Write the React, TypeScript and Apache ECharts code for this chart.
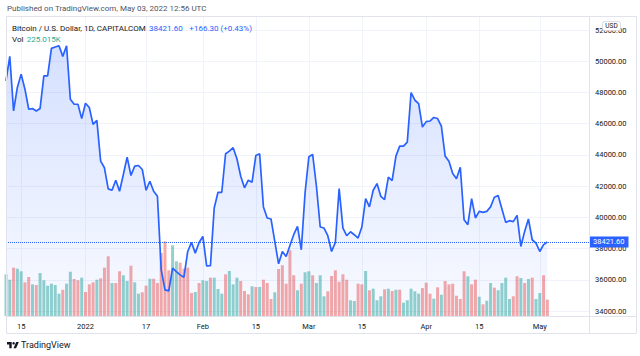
import React, { useEffect, useRef } from "react";
import * as echarts from "echarts";

// ---- data ----
const startDate = "2021-12-11";
const totalSlots = 155; // category slots on the time axis (data + empty right margin)

const prices: number[] = [
  48744, 50313, 46815, 48320, 49175, 48210, 46924, 46970, 46815, 46970,
  49065, 49065, 50827, 50911, 50995, 50313, 50995, 47567, 47246, 47246,
  46326, 47310, 47034, 45960, 46217, 43600, 43176, 41825, 41735, 42378,
  41671, 42745, 43857, 42681, 43279, 43324, 43067, 41735, 42314, 41671,
  41350, 36636, 35350, 35286, 36745, 36527, 36315, 36167, 37813, 38392,
  37710, 38392, 38778, 36894, 36900, 40603, 41606, 41606, 44076, 44245,
  44462, 43754, 42636, 41890, 42378, 42250, 43967, 44076, 40668, 39961,
  39896, 38456, 37022, 37813, 37491, 38200, 38887, 39420, 37922, 41568,
  43883, 44031, 41993, 39379, 39315, 38822, 37813, 38392, 41845, 39315,
  38822, 39080, 38887, 38672, 39379, 41202, 40668, 41735, 42166, 41350,
  41137, 42571, 42359, 43922, 44565, 44565, 44822, 47998, 47503, 47291,
  45786, 46133, 46172, 46400, 46330, 45850, 43922, 43600, 42809, 42468,
  43214, 39851, 39530, 41202, 39961, 40385, 40321, 40385, 40668, 41285,
  41395, 40539, 39678, 39787, 39723, 40128, 38136, 39100, 39896, 38565,
  38353, 37813, 38255.3, 38421.6,
];

// volume in thousands
const volumes: number[] = [
  575, 501, 667, 653, 617, 465, 538, 437, 428, 593,
  493, 418, 446, 428, 308, 363, 446, 611, 511, 493,
  529, 331, 437, 465, 501, 520, 667, 824, 455, 455,
  617, 562, 483, 694, 465, 308, 327, 418, 515, 515,
  455, 869, 1031, 631, 976, 755, 736, 653, 667, 317,
  331, 455, 493, 483, 529, 529, 373, 308, 575, 621,
  437, 529, 483, 345, 299, 410, 400, 400, 501, 455,
  235, 327, 649, 700, 446, 907, 562, 355, 446, 603,
  617, 562, 455, 562, 272, 341, 552, 631, 473, 575,
  501, 217, 207, 446, 437, 621, 355, 377, 217, 272,
  368, 377, 345, 363, 363, 184, 217, 377, 341, 308,
  386, 460, 308, 239, 396, 294, 483, 437, 446, 280,
  235, 617, 548, 437, 501, 266, 161, 211, 455, 391,
  355, 455, 529, 235, 272, 548, 524, 455, 511, 529,
  235, 317, 562, 225.015,
];

// u = up (green), d = down (red)
const volumeDir: string[] = (
  "uuduudduduuuuuuduuddudddudddudduuduudduddddduudddduduudu" +
  "uuduuudddududdduddddduduuduuudddddduudduduuudududuuuuudddudu" +
  "ddddddudduduuduuuuddududuuddddu"
).split("");

const tickDates: string[] = [
  "2021-12-15", "2022-01-01", "2022-01-17", "2022-02-01", "2022-02-15",
  "2022-03-01", "2022-03-15", "2022-04-01", "2022-04-15", "2022-05-01",
];
const tickLabels: string[] = ["15", "2022", "17", "Feb", "15", "Mar", "15", "Apr", "15", "May"];

const priceTicksMin = 33680;
const priceTicksMax = 52900;

// ---- helpers ----
function buildDates(start: string, n: number): string[] {
  const out: string[] = [];
  const d0 = new Date(start + "T00:00:00Z").getTime();
  for (let i = 0; i < n; i++) {
    out.push(new Date(d0 + i * 86400000).toISOString().slice(0, 10));
  }
  return out;
}

const FONT = "Roboto, 'Noto Sans', sans-serif";
const BLUE = "#2962FF";

export default function App() {
  const ref = useRef<HTMLDivElement>(null);

  useEffect(() => {
    if (!ref.current) return;
    const chart = echarts.init(ref.current, undefined, { renderer: "svg" });
    const dates = buildDates(startDate, totalSlots);
    const tickSet = new Set(tickDates);
    const labelMap: Record<string, string> = {};
    tickDates.forEach((d, k) => (labelMap[d] = tickLabels[k]));
    const isTick = (idx: number) => tickSet.has(dates[idx]);
    const last = prices[prices.length - 1];
    const prev = prices[prices.length - 2];
    const chg = last - prev;
    const pct = (chg / prev) * 100;

    const barData = volumes.map((v, i) => ({
      value: v,
      itemStyle: {
        color: volumeDir[i] === "u" ? "rgba(38,166,154,0.5)" : "rgba(239,83,80,0.5)",
      },
    }));

    chart.setOption({
      animation: false,
      backgroundColor: "#ffffff",
      textStyle: { fontFamily: FONT },
      grid: { left: 6, right: 51, top: 16, bottom: 40, containLabel: false },
      xAxis: {
        type: "category",
        data: dates,
        boundaryGap: false,
        axisLine: { show: false },
        axisTick: { show: false },
        axisLabel: {
          interval: (idx: number) => isTick(idx),
          formatter: (v: string) => labelMap[v] || "",
          color: "#131722",
          fontSize: 7.5,
          margin: 6,
          fontFamily: FONT,
        },
        splitLine: {
          show: true,
          interval: (idx: number) => isTick(idx),
          lineStyle: { color: "#f0f3fa", width: 1 },
        },
      },
      yAxis: [
        {
          type: "value",
          position: "right",
          min: priceTicksMin,
          max: priceTicksMax,
          splitNumber: 10,
          axisLine: { show: false },
          axisTick: { show: false },
          axisLabel: {
            showMinLabel: false,
            showMaxLabel: false,
            formatter: (v: number) => v.toFixed(2),
            color: "#131722",
            fontSize: 7.5,
            margin: 6,
            fontFamily: FONT,
          },
          splitLine: { lineStyle: { color: "#f0f3fa", width: 1 } },
        },
        {
          type: "value",
          show: false,
          min: 0,
          max: 4140,
          splitLine: { show: false },
        },
      ],
      series: [
        {
          type: "bar",
          yAxisIndex: 1,
          data: barData,
          barWidth: 3,
          z: 1,
          silent: true,
        },
        {
          type: "line",
          yAxisIndex: 0,
          data: prices,
          symbol: "none",
          lineStyle: { color: BLUE, width: 1.7 },
          areaStyle: {
            color: new echarts.graphic.LinearGradient(0, 0, 0, 1, [
              { offset: 0, color: "rgba(41,98,255,0.28)" },
              { offset: 1, color: "rgba(41,98,255,0.04)" },
            ]),
          },
          z: 3,
          markLine: {
            silent: true,
            symbol: ["none", "none"],
            lineStyle: { color: BLUE, type: "dotted", width: 1 },
            label: {
              show: true,
              position: "end",
              distance: 0,
              formatter: () => last.toFixed(2),
              backgroundColor: BLUE,
              color: "#ffffff",
              fontSize: 7.5,
              padding: [2, 4, 1, 4],
              fontFamily: FONT,
            },
            data: [{ yAxis: last }],
          },
        },
      ],
      graphic: [
        {
          type: "text",
          left: 7,
          top: 4,
          z: 100,
          style: {
            text: "Published on TradingView.com, May 03, 2022 12:56 UTC",
            fill: "#50535e",
            fontSize: 8,
            fontFamily: FONT,
          },
        },
        {
          type: "rect",
          z: 99,
          shape: { x: 6.5, y: 16.5, width: 630, height: 317 },
          style: { fill: "none", stroke: "#e0e3eb", lineWidth: 1 },
        },
        {
          type: "line",
          z: 99,
          shape: { x1: 6.5, y1: 316.5, x2: 636.5, y2: 316.5 },
          style: { stroke: "#e0e3eb", lineWidth: 1 },
        },
        {
          type: "line",
          z: 99,
          shape: { x1: 589.5, y1: 16.5, x2: 589.5, y2: 333.5 },
          style: { stroke: "#e0e3eb", lineWidth: 1 },
        },
        {
          type: "text",
          left: 12,
          top: 22,
          z: 100,
          style: {
            text:
              "{a|Bitcoin / U.S. Dollar, 1D, CAPITALCOM} {b|" +
              last.toFixed(2) +
              "}  {b|" +
              (chg >= 0 ? "+" : "") +
              chg.toFixed(2) +
              " (" +
              (pct >= 0 ? "+" : "") +
              pct.toFixed(2) +
              "%)}",
            rich: {
              a: { fill: "#131722", fontSize: 8, fontFamily: FONT },
              b: { fill: BLUE, fontSize: 8, fontFamily: FONT },
            },
          },
        },
        {
          type: "text",
          left: 12,
          top: 33,
          z: 100,
          style: {
            text: "{a|Vol} {c|" + volumes[volumes.length - 1].toFixed(3) + "K}",
            rich: {
              a: { fill: "#131722", fontSize: 8, fontFamily: FONT },
              c: { fill: "#22ab94", fontSize: 8, fontFamily: FONT },
            },
          },
        },
        {
          type: "rect",
          z: 101,
          shape: { x: 602.5, y: 21.5, width: 18, height: 9, r: 2 },
          style: { fill: "#ffffff", stroke: "#d1d4dc", lineWidth: 0.8 },
        },
        {
          type: "text",
          z: 102,
          x: 611.5,
          y: 26.2,
          style: {
            text: "USD",
            fill: "#131722",
            fontSize: 6.5,
            fontFamily: FONT,
            align: "center",
            verticalAlign: "middle",
          },
        },
        // TradingView logo
        {
          type: "polygon",
          z: 100,
          shape: { points: [[7, 342], [11.7, 342], [11.7, 348.2], [9.3, 348.2], [9.3, 344.4], [7, 344.4]] },
          style: { fill: "#131722" },
        },
        {
          type: "circle",
          z: 100,
          shape: { cx: 13.6, cy: 343.3, r: 1.25 },
          style: { fill: "#131722" },
        },
        {
          type: "polygon",
          z: 100,
          shape: { points: [[13.5, 348.2], [16.1, 348.2], [18.8, 342], [16.2, 342]] },
          style: { fill: "#131722" },
        },
        {
          type: "text",
          left: 21,
          top: 340,
          z: 100,
          style: { text: "TradingView", fill: "#131722", fontSize: 9, fontFamily: FONT },
        },
      ],
    });
    return () => chart.dispose();
  }, []);

  return (
    <div
      ref={ref}
      style={{ position: "fixed", left: 0, top: 0, width: 640, height: 356, background: "#fff" }}
    />
  );
}
